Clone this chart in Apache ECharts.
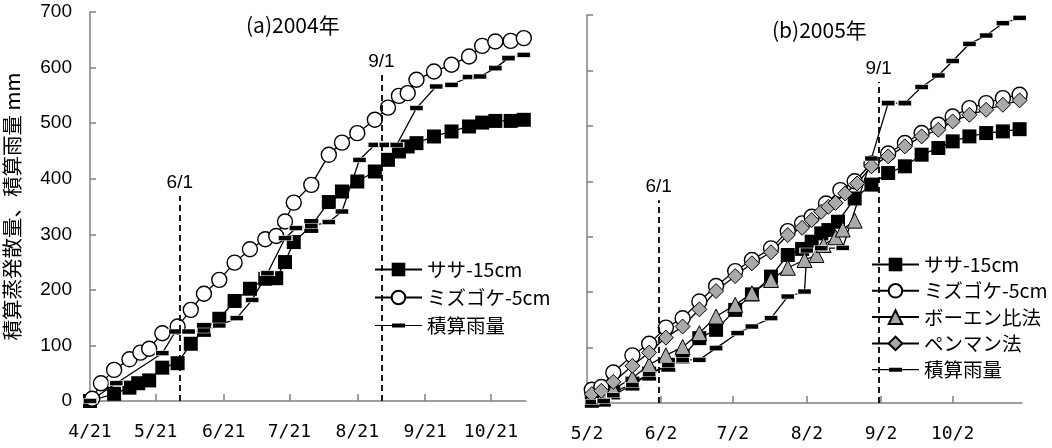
<!DOCTYPE html>
<html>
<head>
<meta charset="utf-8">
<script src="https://cdn.jsdelivr.net/npm/echarts@6/dist/echarts.min.js"></script>
<style>
  html, body { margin: 0; padding: 0; background: #fff; }
  #chart { width: 1052px; height: 448px; }
</style>
</head>
<body>
<div id="chart"></div>
<script>
// ---- (a) 2004 ----
const yearA = 2004;
const ticksA = ['4/21', '5/21', '6/21', '7/21', '8/21', '9/21', '10/21'];
const rangeA = ['4/21', '11/6'];

const sasaDatesA = ['4/21','5/2','5/9','5/13','5/18','5/24','5/31','6/6','6/12','6/19','6/26','7/3','7/10','7/15','7/19','7/23','7/31','8/8','8/14','8/21','8/29','9/4','9/9','9/13','9/17','9/25','10/3','10/11','10/17','10/23','10/30','11/5'];
const sasaA = [0,13,24,32,37,60,68,103,128,148,180,202,220,221,250,286,315,358,377,395,413,434,449,458,464,476,485,494,501,504,504,506];

const mossDatesA = ['4/22','4/26','5/2','5/9','5/14','5/18','5/24','5/31','6/6','6/12','6/19','6/26','7/3','7/10','7/15','7/19','7/23','7/31','8/8','8/14','8/21','8/29','9/4','9/9','9/13','9/17','9/25','10/3','10/11','10/17','10/23','10/30','11/5'];
const mossA = [4,32,56,75,87,94,122,134,164,193,218,249,273,291,297,323,357,389,443,465,482,506,528,549,554,578,593,605,620,639,647,648,653];

const rainDatesA = ['4/21','5/3','5/24','5/30','6/5','6/12','6/19','6/27','7/4','7/11','7/19','7/24','7/31','8/8','8/14','8/22','8/29','9/3','9/8','9/17','9/26','10/3','10/11','10/16','10/23','10/29','11/5'];
const rainA = [0,32,86,125,125,127,136,149,182,230,293,311,315,322,341,434,461,461,461,527,566,569,583,584,599,617,623];

// reference dates: [label, top of the dashed line]
const marksA = [['6/1', 369], ['9/1', 587]];

// ---- (b) 2005 ----
const yearB = 2005;
const ticksB = ['5/2', '6/2', '7/2', '8/2', '9/2', '10/2'];
const rangeB = ['5/2', '10/31'];

const sasaDatesB = ['5/4','5/9','5/13','5/21','5/28','6/5','6/11','6/18','6/25','7/3','7/10','7/18','7/25','7/31','8/4','8/8','8/11','8/15','8/22','8/29','9/5','9/12','9/19','9/26','10/2','10/9','10/16','10/23','10/30'];
const sasaB = [4,6,19,35,53,69,84,117,132,168,196,228,267,278,291,306,312,327,369,394,415,427,448,460,472,481,487,490,494];

const mossDatesB = ['5/4','5/8','5/13','5/21','5/28','6/4','6/11','6/18','6/25','7/3','7/10','7/18','7/25','7/31','8/4','8/10','8/16','8/22','8/29','9/5','9/12','9/19','9/26','10/2','10/9','10/16','10/23','10/30'];
const mossB = [24,29,55,86,107,136,153,183,211,238,258,279,310,324,336,360,384,400,432,450,469,487,502,517,532,541,550,556];

const bowenDatesB = ['5/4','5/9','5/13','5/21','5/28','6/4','6/11','6/18','6/25','7/3','7/10','7/18','7/25','8/1','8/6','8/9','8/14','8/17','8/22'];
const bowenB = [12,15,25,45,69,86,101,126,156,177,198,222,244,258,267,285,299,313,329];

const penmanDatesB = ['5/4','5/8','5/13','5/21','5/28','6/4','6/11','6/18','6/25','7/3','7/10','7/18','7/25','7/31','8/4','8/8','8/11','8/14','8/18','8/23','8/29','9/5','9/12','9/19','9/26','10/2','10/9','10/16','10/23','10/30'];
const penmanB = [16,22,38,67,91,118,138,169,202,229,252,272,303,316,330,345,354,361,378,396,427,445,463,481,493,508,520,529,538,546];

const rainDatesB = ['5/4','5/9','5/13','5/21','5/28','6/5','6/11','6/18','6/25','7/4','7/10','7/18','7/25','8/1','8/2','8/8','8/17','8/29','9/5','9/12','9/19','9/26','10/2','10/9','10/16','10/23','10/30'];
const rainB = [2,4,14,33,52,68,78,78,99,126,138,153,192,201,275,279,280,441,541,541,570,591,617,648,663,685,695];

const marksB = [['6/1', 366], ['9/1', 579]];

const seriesNames = ['ササ-15cm', 'ミズゴケ-5cm', 'ボーエン比法', 'ペンマン法', '積算雨量'];
const yAxisName = '積算蒸発散量、積算雨量 mm';
const titleA = '(a)2004年';
const titleB = '(b)2005年';

// ---- helpers ----
function dayNum(year, md) {
  const [m, d] = md.split('/').map(Number);
  return Date.UTC(year, m - 1, d) / 86400000;
}
function mdLabel(v) {
  const dt = new Date(Math.round(v) * 86400000);
  return (dt.getUTCMonth() + 1) + '/' + dt.getUTCDate();
}
function pairs(year, dates, vals) {
  return dates.map((md, i) => [dayNum(year, md), vals[i]]);
}

const jpFont = '"Noto Sans CJK JP", sans-serif';
const numFont = '"Liberation Sans", Arial, sans-serif';
const monoFont = '"DejaVu Sans Mono", monospace';
const axisGray = '#808080';
const markGray = '#a9a9a9';

const styles = {
  sasa:   { symbol: 'rect', symbolSize: 14, itemStyle: { color: '#000', borderColor: '#000', borderWidth: 0 } },
  moss:   { symbol: 'circle', symbolSize: 15, itemStyle: { color: '#fff', borderColor: '#000', borderWidth: 1.4 } },
  bowen:  { symbol: 'triangle', symbolSize: 15, itemStyle: { color: markGray, borderColor: '#000', borderWidth: 1 } },
  penman: { symbol: 'diamond', symbolSize: 15, itemStyle: { color: markGray, borderColor: '#000', borderWidth: 1 } },
  rain:   { symbol: 'rect', symbolSize: [14, 5], itemStyle: { color: '#000', borderColor: '#fff', borderWidth: 0.8 } }
};

function lineSeries(name, data, style, idx, extra) {
  return Object.assign({
    type: 'line',
    name: name,
    xAxisIndex: idx,
    yAxisIndex: idx,
    data: data,
    clip: false,
    showSymbol: true,
    symbol: style.symbol,
    symbolSize: style.symbolSize,
    itemStyle: style.itemStyle,
    lineStyle: { color: '#000', width: 1.3 },
    emphasis: { disabled: true },
    animation: false
  }, extra || {});
}

function markLineFor(year, marks) {
  return {
    silent: true,
    symbol: 'none',
    animation: false,
    lineStyle: { color: '#000', type: [6, 4], width: 1.8 },
    label: {
      show: true, position: 'end', distance: 4,
      formatter: p => p.name,
      color: '#000', fontSize: 19, fontFamily: numFont
    },
    data: marks.map(([md, top]) => [
      { name: md, coord: [dayNum(year, md), 0] },
      { coord: [dayNum(year, md), top] }
    ])
  };
}

function xAxisFor(idx, year, ticks, range) {
  const tickVals = ticks.map(t => dayNum(year, t));
  return {
    type: 'value',
    gridIndex: idx,
    min: dayNum(year, range[0]),
    max: dayNum(year, range[1]),
    axisLine: { show: true, onZero: false, lineStyle: { color: axisGray, width: 1.5 } },
    axisTick: { show: true, inside: true, length: 7, customValues: tickVals, lineStyle: { color: axisGray, width: 1.5 } },
    axisLabel: {
      customValues: tickVals, formatter: mdLabel,
      color: '#000', fontSize: 18, fontFamily: monoFont, margin: 22
    },
    splitLine: { show: false }
  };
}

function yAxisFor(idx, withLabels) {
  return {
    type: 'value',
    gridIndex: idx,
    min: 0, max: 700, interval: 100,
    axisLine: { show: true, onZero: false, lineStyle: { color: axisGray, width: 1.5 } },
    axisTick: { show: true, inside: true, length: 6, lineStyle: { color: axisGray, width: 1.5 } },
    axisLabel: { show: withLabels, color: '#000', fontSize: 19, fontFamily: numFont, margin: 18 },
    splitLine: { show: false },
    name: withLabels ? yAxisName : '',
    nameLocation: 'middle',
    nameRotate: 90,
    nameGap: 68,
    nameTextStyle: { color: '#000', fontSize: 20.5, fontFamily: jpFont }
  };
}

const rainIcon = 'path://M0,1.4H47V2.6H0Z M17,0H30V4H17Z';
function legendFor(left, top, gap, names) {
  return {
    orient: 'vertical',
    left: left, top: top,
    itemWidth: 47, itemHeight: 17, itemGap: gap,
    selectedMode: false,
    textStyle: { color: '#000', fontSize: 19.5, fontFamily: jpFont, lineHeight: 21 },
    data: names.map(n => n === '積算雨量'
      ? { name: n, icon: rainIcon, itemStyle: { color: '#000', borderWidth: 0 } }
      : n)
  };
}

const option = {
  backgroundColor: '#fff',
  animation: false,
  title: [
    { text: titleA, left: 241, top: 10, textStyle: { color: '#000', fontSize: 21, fontWeight: 'normal', fontFamily: jpFont } },
    { text: titleB, left: 767, top: 15, textStyle: { color: '#000', fontSize: 21, fontWeight: 'normal', fontFamily: jpFont } }
  ],
  grid: [
    { left: 90, top: 12, width: 436, height: 389 },
    { left: 587, top: 15, width: 435, height: 388 }
  ],
  xAxis: [xAxisFor(0, yearA, ticksA, rangeA), xAxisFor(1, yearB, ticksB, rangeB)],
  yAxis: [yAxisFor(0, true), yAxisFor(1, false)],
  legend: [
    legendFor(369, 254, 7, [seriesNames[0], seriesNames[1], seriesNames[4]]),
    legendFor(866, 249, 5.3, seriesNames)
  ],
  series: [
    lineSeries(seriesNames[0], pairs(yearA, sasaDatesA, sasaA), styles.sasa, 0),
    lineSeries(seriesNames[1], pairs(yearA, mossDatesA, mossA), styles.moss, 0),
    lineSeries(seriesNames[4], pairs(yearA, rainDatesA, rainA), styles.rain, 0, { markLine: markLineFor(yearA, marksA) }),
    lineSeries(seriesNames[0], pairs(yearB, sasaDatesB, sasaB), styles.sasa, 1),
    lineSeries(seriesNames[1], pairs(yearB, mossDatesB, mossB), styles.moss, 1),
    lineSeries(seriesNames[2], pairs(yearB, bowenDatesB, bowenB), styles.bowen, 1),
    lineSeries(seriesNames[3], pairs(yearB, penmanDatesB, penmanB), styles.penman, 1),
    lineSeries(seriesNames[4], pairs(yearB, rainDatesB, rainB), styles.rain, 1, { markLine: markLineFor(yearB, marksB) })
  ]
};

const chart = echarts.init(document.getElementById('chart'), null, { renderer: 'canvas' });
chart.setOption(option);
</script>
</body>
</html>
